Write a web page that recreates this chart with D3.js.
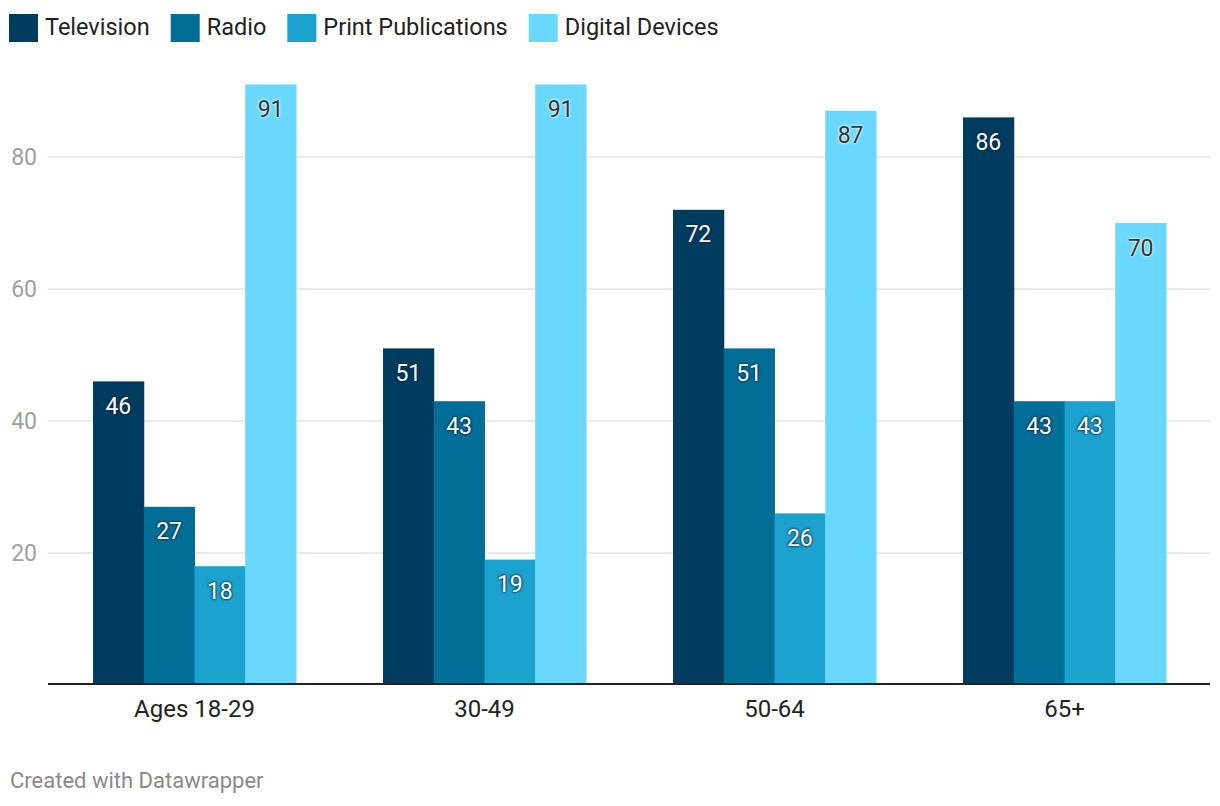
<!DOCTYPE html>
<html><head><meta charset="utf-8">
<script src="https://cdn.jsdelivr.net/npm/d3@7"></script>
<style>
body{margin:0;background:#fff;}
svg{font-family:Roboto, "Noto Sans", sans-serif;}
</style></head>
<body><svg id="c" width="1220" height="806"></svg>
<script>
const categories = ["Ages 18-29", "30-49", "50-64", "65+"];
const seriesNames = ["Television", "Radio", "Print Publications", "Digital Devices"];
const television = [46, 51, 72, 86];
const radio = [27, 43, 51, 43];
const print = [18, 19, 26, 43];
const digital = [91, 91, 87, 70];
const yTicks = [20, 40, 60, 80];
const colors = ["#003c5f", "#006e97", "#1ba2cf", "#6ad8fe"];

const seriesValues = [television, radio, print, digital];
const svg = d3.select("#c");
const left = 48, right = 1210, bottom = 685;

const x0 = d3.scaleBand().domain(categories).range([49.5, 1209.5]).paddingInner(0.3).paddingOuter(0.15);
const x1 = d3.scaleBand().domain(seriesNames).range([0, x0.bandwidth()]);
const y = d3.scaleLinear().domain([0, 80]).range([bottom, bottom - 528]);

// grid
svg.append("g").selectAll("line").data(yTicks).join("line")
  .attr("x1", left).attr("x2", right)
  .attr("y1", d => y(d)).attr("y2", d => y(d))
  .attr("stroke", "#e3e3e3").attr("stroke-width", 1.3);
svg.append("g").selectAll("text").data(yTicks).join("text")
  .attr("x", 37).attr("y", d => y(d)).attr("dy", "0.35em")
  .attr("text-anchor", "end").attr("font-size", 23).attr("fill", "#a0a0a0")
  .text(d => d);

// bars
const g = svg.append("g");
categories.forEach((c, ci) => {
  seriesNames.forEach((s, si) => {
    const v = seriesValues[si][ci];
    g.append("rect")
      .attr("x", x0(c) + x1(s)).attr("width", x1.bandwidth() + 0.5)
      .attr("y", y(v)).attr("height", y(0) - y(v))
      .attr("fill", colors[si]);
  });
});
categories.forEach((c, ci) => {
  seriesNames.forEach((s, si) => {
    const v = seriesValues[si][ci];
    const dark = si < 3;
    g.append("text")
      .attr("x", x0(c) + x1(s) + x1.bandwidth() / 2)
      .attr("y", y(v) + 24.5).attr("dy", "0.35em")
      .attr("text-anchor", "middle").attr("font-size", 23)
      .attr("fill", dark ? "#ffffff" : "#333333")
      .style("text-shadow", dark ? "0 0 3px #00263d, 0 0 2px #00263d" : "0 0 3px #ffffff, 0 0 2px #ffffff")
      .text(v);
  });
});

// baseline
svg.append("line").attr("x1", left).attr("x2", right)
  .attr("y1", y(0) - 1).attr("y2", y(0) - 1)
  .attr("stroke", "#222").attr("stroke-width", 2);

// x labels
svg.append("g").selectAll("text").data(categories).join("text")
  .attr("x", d => x0(d) + x0.bandwidth() / 2).attr("y", 709).attr("dy", "0.35em")
  .attr("text-anchor", "middle").attr("font-size", 24).attr("fill", "#222")
  .text(d => d);

// legend
const leg = svg.append("g");
let lx = 9;
seriesNames.forEach((s, i) => {
  leg.append("rect").attr("x", lx).attr("y", 14).attr("width", 29).attr("height", 28).attr("fill", colors[i]);
  const t = leg.append("text").attr("x", lx + 36).attr("y", 27).attr("dy", "0.35em")
    .attr("font-size", 23.5).attr("fill", "#222").text(s);
  lx += 36 + t.node().getComputedTextLength() + 21;
});

svg.append("text").attr("x", 10).attr("y", 780).attr("dy", "0.35em")
  .attr("font-size", 22).attr("fill", "#8a8a8a").text("Created with Datawrapper");
</script></body></html>
